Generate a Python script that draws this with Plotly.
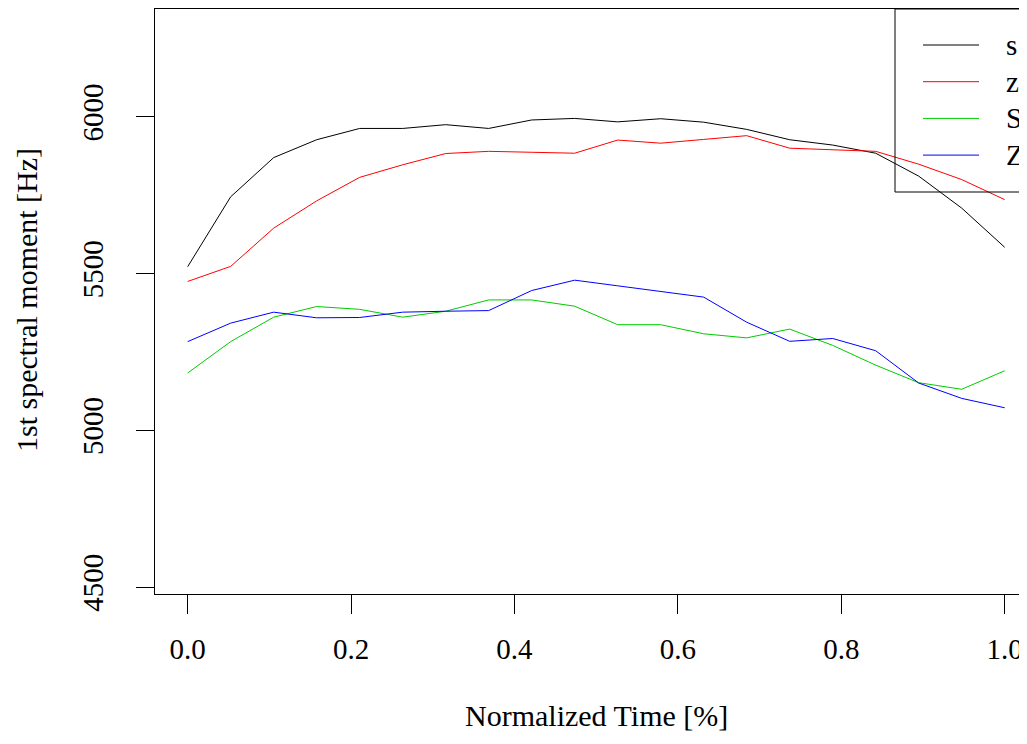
import numpy as np
import plotly.graph_objects as go

# normalized time, 20 samples
time = np.linspace(0, 1, 20)

labels = ["s", "z", "S", "Z"]
colors = ["black", "red", "#00CC00", "blue"]

s_vals = [5522, 5745, 5870, 5927, 5963, 5963, 5975, 5963, 5990, 5995,
          5984, 5994, 5983, 5960, 5927, 5910, 5884, 5811, 5709, 5584]
z_vals = [5475, 5523, 5645, 5732, 5807, 5847, 5883, 5890, 5887, 5884,
          5926, 5916, 5928, 5940, 5900, 5895, 5890, 5849, 5800, 5736]
S_vals = [5183, 5283, 5361, 5395, 5386, 5361, 5380, 5416, 5416, 5396,
          5337, 5337, 5308, 5295, 5323, 5271, 5208, 5152, 5131, 5190]
Z_vals = [5283, 5342, 5377, 5359, 5360, 5377, 5380, 5382, 5446, 5479,
          5461, 5443, 5425, 5345, 5284, 5293, 5254, 5151, 5102, 5072]

series = [s_vals, z_vals, S_vals, Z_vals]

FONT = "Liberation Serif"
OFF = 8  # page body margin
W, H = 1019, 728
L, T, B = 147, 1, 142
plot_w = W - L
plot_h = H - T - B

fig = go.Figure()
for lab, col, vals in zip(labels, colors, series):
    fig.add_trace(go.Scatter(x=time, y=vals, mode="lines", name=lab,
                             line=dict(color=col, width=1)))

# screen pixel -> paper coords
def px_x(p):
    return (p - OFF - L) / plot_w

def px_y(p):
    return (OFF + T + plot_h - p) / plot_h

# hand drawn legend, R style
shapes = [dict(type="rect", xref="paper", yref="paper",
               x0=px_x(895), x1=1.05, y0=px_y(192), y1=1.0,
               line=dict(color="black", width=1))]
annotations = []
for i, (lab, col) in enumerate(zip(labels, colors)):
    yy = px_y(45 + i * 36.7)
    shapes.append(dict(type="line", xref="paper", yref="paper",
                       x0=px_x(923), x1=px_x(979), y0=yy, y1=yy,
                       line=dict(color=col, width=1)))
    annotations.append(dict(text=lab, xref="paper", yref="paper",
                            x=px_x(1004), y=yy, xanchor="left", yanchor="middle",
                            showarrow=False, font=dict(size=29, color="black")))

annotations.append(dict(text="Normalized Time [%]", xref="paper", yref="paper",
                        x=px_x(596), y=px_y(715), xanchor="center", yanchor="middle",
                        showarrow=False, font=dict(size=30, color="black")))
annotations.append(dict(text="1st spectral moment [Hz]", xref="paper", yref="paper",
                        x=px_x(26), y=px_y(300), xanchor="center", yanchor="middle",
                        textangle=-90, showarrow=False, font=dict(size=30, color="black")))

fig.update_layout(
    width=W, height=H,
    margin=dict(l=L, r=0, t=T, b=B),
    plot_bgcolor="white", paper_bgcolor="white",
    font=dict(family=FONT, size=29, color="black"),
    showlegend=False,
    shapes=shapes,
    annotations=annotations,
    xaxis=dict(range=[-0.04, -0.04 + plot_w / 817], tickvals=[0, 0.2, 0.4, 0.6, 0.8, 1.0],
               ticktext=["0.0", "0.2", "0.4", "0.6", "0.8", "1.0"],
               showgrid=False, zeroline=False, showline=True, mirror=True,
               linecolor="black", linewidth=1, ticks="outside", ticklen=19,
               tickcolor="black", tickwidth=1, ticklabelstandoff=10),
    yaxis=dict(range=[4478, 6344], tickvals=[4500, 5000, 5500, 6000],
               showgrid=False, zeroline=False, showline=True,
               linecolor="black", linewidth=1, ticks="outside", ticklen=18,
               tickcolor="black", tickwidth=1, tickangle=-90, ticklabelstandoff=21),
)

fig.write_html("out.html")
